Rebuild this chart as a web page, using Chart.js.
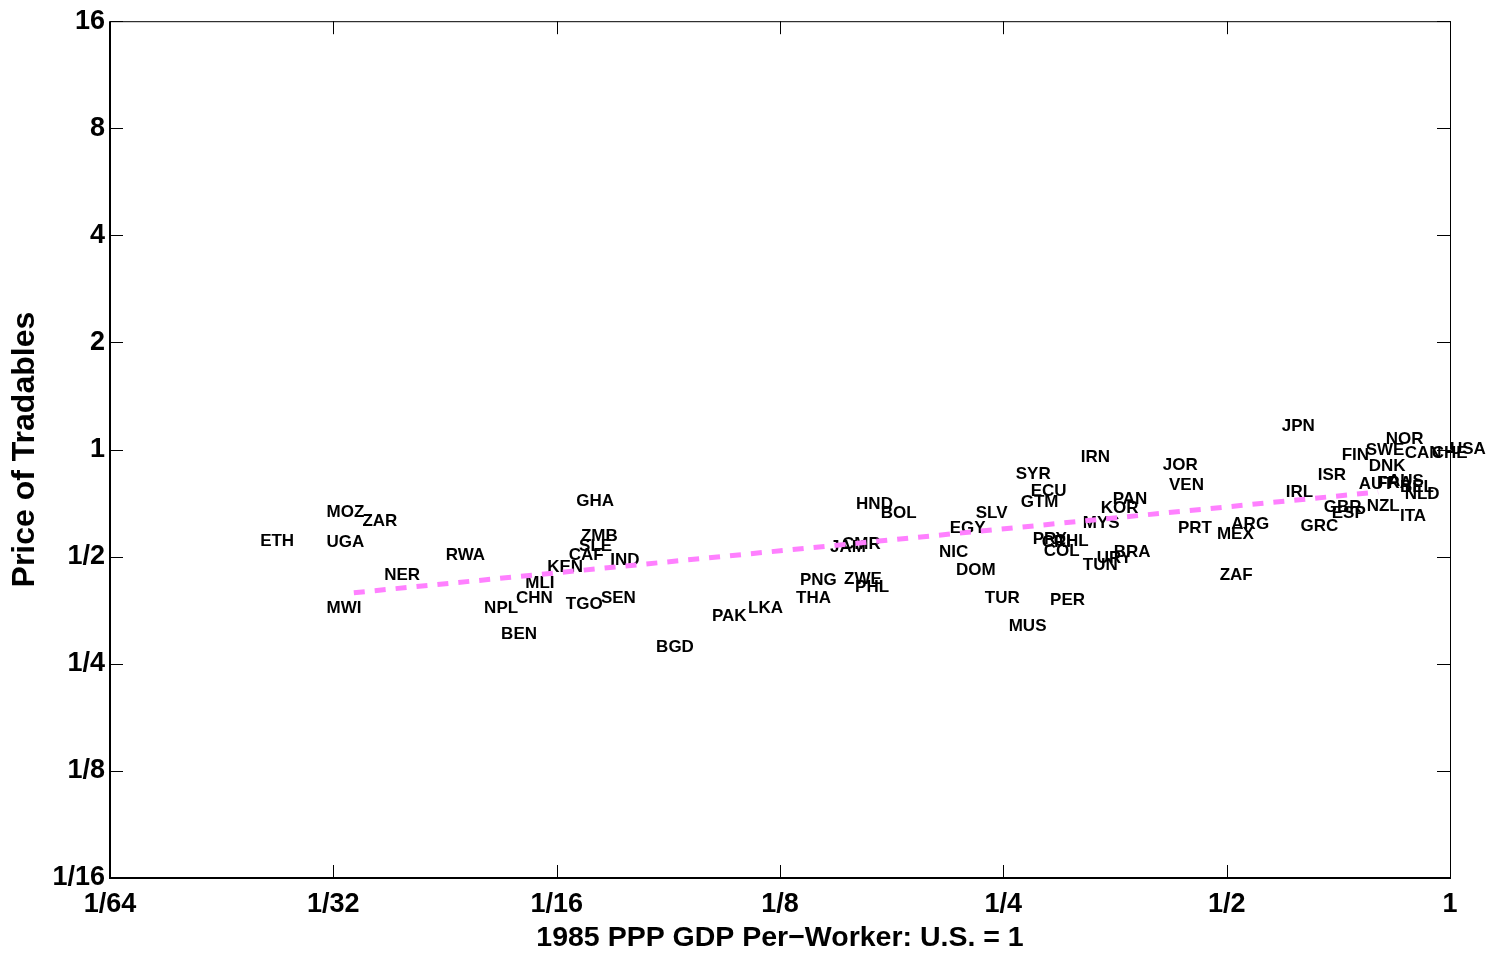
<!DOCTYPE html>
<html><head><meta charset="utf-8">
<script src="https://cdn.jsdelivr.net/npm/chart.js@4/dist/chart.umd.min.js"></script>
<style>html,body{margin:0;padding:0;background:#fff;overflow:hidden;} #wrap{width:1495px;height:957px;position:relative;}</style>
</head><body><div id="wrap"><canvas id="c" width="1495" height="957"></canvas></div>
<script>
// Country codes
const countries = ['ETH','MOZ','ZAR','UGA','MWI','NER','RWA','NPL','BEN','CHN','MLI','KEN','CAF','SLE','ZMB','GHA','IND','TGO','SEN',
  'BGD','PAK','LKA','PNG','THA','ZWE','PHL','JAM','CMR','HND','BOL','EGY','SLV','NIC','DOM','TUR','MUS','SYR','ECU','GTM',
  'PRY','CRI','CHL','COL','IRN','PER','MYS','KOR','PAN','TUN','URY','BRA','JOR','VEN','PRT','MEX','ARG','ZAF','JPN','IRL',
  'ISR','GRC','GBR','ESP','FIN','SWE','NOR','DNK','CAN','CHE','USA','AUT','FRA','AUS','BEL','NLD','NZL','ITA'];
// 1985 PPP GDP per worker relative to U.S.
const gdpPerWorker = [0.0249,0.0306,0.0342,0.0306,0.0306,0.0366,0.0443,0.0499,0.0526,0.0551,0.0567,0.0607,0.0649,0.0670,0.0674,0.0664,0.0738,0.0643,0.0717,
  0.0851,0.1012,0.1132,0.1330,0.1314,0.1525,0.1578,0.1460,0.1515,0.1583,0.1709,0.2117,0.2295,0.2048,0.2159,0.2360,0.2542,0.2598,0.2722,0.2639,
  0.2738,0.2816,0.2923,0.2834,0.3179,0.2890,0.3199,0.3382,0.3511,0.3199,0.3340,0.3521,0.4100,0.4180,0.4298,0.4851,0.5073,0.4893,0.5932,0.6006,
  0.6634,0.6290,0.6759,0.6928,0.7145,0.7697,0.8190,0.7769,0.8688,0.9448,1.0000,0.7532,0.7973,0.8248,0.8562,0.8688,0.7721,0.8562];
// Price of tradables
const priceTradables = [0.554,0.668,0.630,0.550,0.359,0.442,0.506,0.359,0.302,0.383,0.422,0.468,0.506,0.536,0.569,0.717,0.490,0.367,0.383,
  0.278,0.341,0.359,0.428,0.383,0.433,0.409,0.530,0.543,0.703,0.664,0.602,0.664,0.516,0.459,0.383,0.318,0.854,0.765,0.713,
  0.561,0.550,0.554,0.519,0.953,0.376,0.622,0.686,0.727,0.474,0.496,0.516,0.905,0.795,0.602,0.579,0.618,0.442,1.164,0.760,
  0.848,0.610,0.690,0.664,0.965,0.997,1.070,0.899,0.978,0.978,1.000,0.800,0.805,0.816,0.785,0.750,0.694,0.651];
// Fitted regression line endpoints
const fitX = [0.0333, 0.800];
const fitY = [0.396, 0.760];
// Axis ticks
const xTickValues = [1/64, 1/32, 1/16, 1/8, 1/4, 1/2, 1];
const xTickLabels = ['1/64','1/32','1/16','1/8','1/4','1/2','1'];
const yTickValues = [1/16, 1/8, 1/4, 1/2, 1, 2, 4, 8, 16];
const yTickLabels = ['1/16','1/8','1/4','1/2','1','2','4','8','16'];

const FONT = "'Liberation Sans', Arial, Helvetica, sans-serif";

const labelPlugin = {
  id: 'countryLabels',
  beforeDatasetsDraw(chart) {
    const ctx = chart.ctx, xs = chart.scales.x, ys = chart.scales.y;
    ctx.save();
    ctx.fillStyle = '#000';
    ctx.font = 'bold 17px ' + FONT;
    ctx.textAlign = 'left';
    ctx.textBaseline = 'middle';
    countries.forEach((c, i) => {
      ctx.fillText(c, xs.getPixelForValue(gdpPerWorker[i]), ys.getPixelForValue(priceTradables[i]));
    });
    ctx.restore();
  }
};

const framePlugin = {
  id: 'frame',
  afterDraw(chart) {
    const ctx = chart.ctx, a = chart.chartArea, xs = chart.scales.x, ys = chart.scales.y;
    const L = 13;
    ctx.save();
    ctx.strokeStyle = '#000';
    ctx.lineWidth = 1;
    ctx.beginPath();
    ctx.moveTo(a.left, a.top + 0.5); ctx.lineTo(a.right, a.top + 0.5);
    ctx.moveTo(a.right + 0.5, a.top); ctx.lineTo(a.right + 0.5, a.bottom);
    xTickValues.forEach(v => {
      const px = Math.round(xs.getPixelForValue(v)) + 0.5;
      ctx.moveTo(px, a.bottom); ctx.lineTo(px, a.bottom - L);
      ctx.moveTo(px, a.top); ctx.lineTo(px, a.top + L);
    });
    yTickValues.forEach(v => {
      const py = Math.round(ys.getPixelForValue(v)) + 0.5;
      ctx.moveTo(a.left, py); ctx.lineTo(a.left + L, py);
      ctx.moveTo(a.right, py); ctx.lineTo(a.right - L, py);
    });
    ctx.stroke();
    ctx.lineWidth = 2;
    ctx.beginPath();
    ctx.moveTo(a.left, a.top); ctx.lineTo(a.left, a.bottom + 1);
    ctx.moveTo(a.left - 1, a.bottom); ctx.lineTo(a.right + 1, a.bottom);
    ctx.stroke();
    ctx.restore();
  }
};

new Chart(document.getElementById('c'), {
  data: {
    datasets: [
      {
        type: 'scatter',
        label: 'Countries',
        data: countries.map((c, i) => ({x: gdpPerWorker[i], y: priceTradables[i]})),
        pointRadius: 0,
        pointHoverRadius: 0
      },
      {
        type: 'line',
        label: 'Fit',
        data: fitX.map((x, i) => ({x: x, y: fitY[i]})),
        borderColor: '#ff80ff',
        borderWidth: 5,
        borderDash: [11, 10],
        pointRadius: 0,
        fill: false
      }
    ]
  },
  options: {
    responsive: false,
    animation: false,
    devicePixelRatio: 1,
    layout: { padding: { left: 0, right: 45, top: 19, bottom: 0 } },
    plugins: { legend: { display: false }, tooltip: { enabled: false } },
    scales: {
      x: {
        type: 'logarithmic',
        min: 1/64, max: 1,
        afterBuildTicks: s => { s.ticks = xTickValues.map(v => ({value: v})); },
        afterFit: s => { s.height = 79; },
        grid: { display: false, drawTicks: false },
        border: { display: false },
        ticks: {
          autoSkip: false, maxRotation: 0, padding: 10, color: '#000',
          font: { family: FONT, size: 27, weight: 'bold' },
          callback: (v, i) => xTickLabels[i]
        },
        title: {
          display: true, text: '1985 PPP GDP Per\u2212Worker: U.S. = 1', color: '#000',
          font: { family: FONT, size: 28.5, weight: 'bold' }, padding: { top: 0, bottom: 2 }
        }
      },
      y: {
        type: 'logarithmic',
        min: 1/16, max: 16,
        afterBuildTicks: s => { s.ticks = yTickValues.map(v => ({value: v})); },
        afterFit: s => { s.width = 110; },
        grid: { display: false, drawTicks: false },
        border: { display: false },
        ticks: {
          autoSkip: false, padding: 5, color: '#000',
          font: { family: FONT, size: 27, weight: 'bold' },
          callback: (v, i) => yTickLabels[i]
        },
        title: {
          display: true, text: 'Price of Tradables', color: '#000',
          font: { family: FONT, size: 32, weight: 'bold' }, padding: { top: 6, bottom: 0 }
        }
      }
    }
  },
  plugins: [labelPlugin, framePlugin]
});
</script>
</body></html>
